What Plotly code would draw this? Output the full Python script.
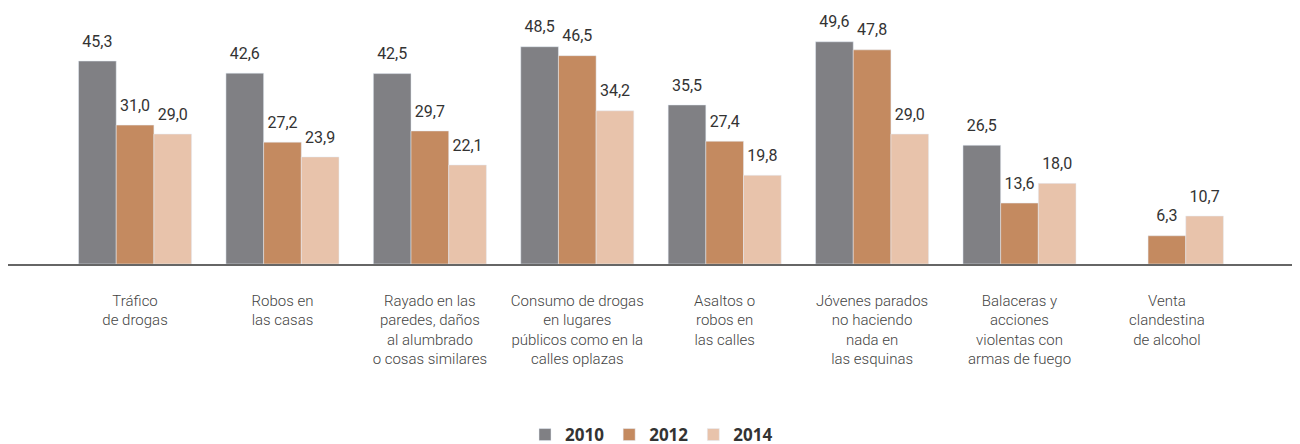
import plotly.graph_objects as go

categories = [
    "Tráfico<br>de drogas",
    "Robos en<br>las casas",
    "Rayado en las<br>paredes, daños<br>al alumbrado<br>o cosas similares",
    "Consumo de drogas<br>en lugares<br>públicos como en la<br>calles oplazas",
    "Asaltos o<br>robos en<br>las calles",
    "Jóvenes parados<br>no haciendo<br>nada en<br>las esquinas",
    "Balaceras y<br>acciones<br>violentas con<br>armas de fuego",
    "Venta<br>clandestina<br>de alcohol",
]
v2010 = [45.3, 42.6, 42.5, 48.5, 35.5, 49.6, 26.5, None]
v2012 = [31.0, 27.2, 29.7, 46.5, 27.4, 47.8, 13.6, 6.3]
v2014 = [29.0, 23.9, 22.1, 34.2, 19.8, 29.0, 18.0, 10.7]

series = [("2010", v2010, "#808084"), ("2012", v2012, "#c48a60"), ("2014", v2014, "#e8c3ab")]

fig = go.Figure()
for name, vals, col in series:
    fig.add_trace(go.Bar(
        x=categories, y=vals, name=name, marker_color=col,
        offsetgroup=name, alignmentgroup="a",
    ))
for name, vals, col in series:
    fig.add_trace(go.Scatter(
        x=categories, y=vals, mode="markers+text", showlegend=False,
        offsetgroup=name, alignmentgroup="a",
        marker=dict(size=15, opacity=0),
        texttemplate="%{y:.1f}", textposition="top center",
        textfont=dict(family="Roboto", size=16, color="#333333"),
        cliponaxis=False, hoverinfo="skip",
    ))

fig.update_layout(
    width=1300, height=444,
    margin=dict(l=0, r=13, t=0, b=188, autoexpand=False),
    paper_bgcolor="white", plot_bgcolor="white",
    barmode="group", bargap=0.233, bargroupgap=0,
    scattermode="group", scattergap=0.233,
    separators=",.",
    showlegend=True,
    legend=dict(orientation="h", x=0.5, xanchor="center", y=-0.668, yanchor="middle",
                font=dict(family="Open Sans", size=17, color="#333333", weight="bold"),
                traceorder="normal"),
    xaxis=dict(range=[-0.862, 7.869], showline=True, linecolor="#666666", linewidth=1.5,
               ticks="", tickfont=dict(family="Roboto", size=15, color="#444444", weight=300),
               ticklabelstandoff=22, automargin=False),
    yaxis=dict(range=[0, 57.14], visible=False, showgrid=False, automargin=False),
)
fig.write_html("out.html")
